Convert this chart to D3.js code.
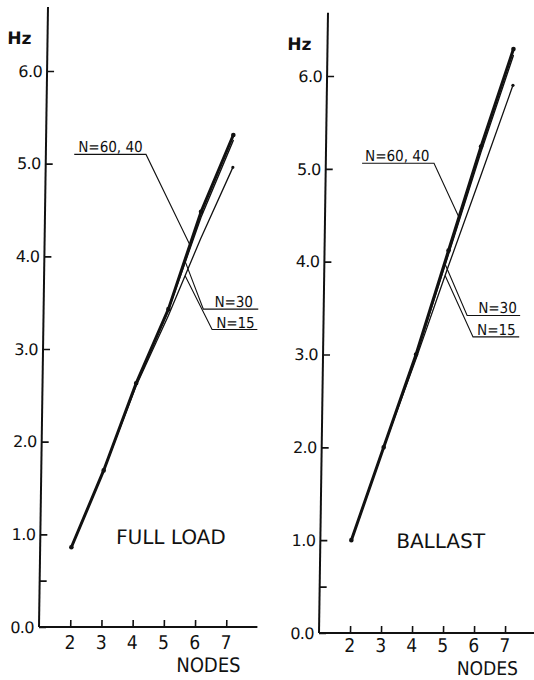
<!DOCTYPE html>
<html>
<head>
<meta charset="utf-8">
<script src="https://cdn.jsdelivr.net/npm/d3@7"></script>
<style>
  html, body { margin: 0; padding: 0; background: #fff; }
  svg { display: block; }
  .lbl { font-family: "DejaVu Sans", sans-serif; fill: #111; }
  .cond { font-family: "DejaVu Sans Condensed", "DejaVu Sans", sans-serif; font-stretch: condensed; fill: #111; }
</style>
</head>
<body>
<svg id="chart" width="534" height="680"></svg>
<script>
// Natural frequency (Hz) against number of nodes, per mesh density N
const nodes = [2, 3, 4, 5, 6, 7];
const yTicks = [0, 1, 2, 3, 4, 5, 6];
const yTickLabels = ["0.0", "1.0", "2.0", "3.0", "4.0", "5.0", "6.0"];
const xTickLabels = ["2", "3", "4", "5", "6", "7"];

const fullLoadN6040 = [0.86, 1.69, 2.63, 3.43, 4.48, 5.31];
const fullLoadN30   = [0.86, 1.69, 2.62, 3.42, 4.42, 5.25];
const fullLoadN15   = [0.86, 1.69, 2.60, 3.36, 4.19, 4.96];

const ballastN6040 = [1.00, 2.00, 3.00, 4.12, 5.24, 6.29];
const ballastN30   = [1.00, 2.00, 2.98, 4.08, 5.18, 6.22];
const ballastN15   = [1.00, 2.00, 2.95, 3.95, 4.92, 5.90];

const seriesNames = ["N=60, 40", "N=30", "N=15"];
const panelTitles = ["FULL LOAD", "BALLAST"];

const svg = d3.select("#chart");
const ink = "#111";
const shear = 0.0145; // the whole sheet leans slightly

const panels = [
  {
    title: panelTitles[0],
    x: d3.scaleLinear().domain([1, 8]).range([39, 257.4]),
    y: d3.scaleLinear().domain([0, 6]).range([627, 71]),
    yTop: 6.69,
    series: [fullLoadN15, fullLoadN30, fullLoadN6040],
    titleAt: [3.43, 0.895],
    tickDy: 22, nodesDy: 45, nodesSize: 20,
    notes: [
      { text: seriesNames[0], s: 2, at: 5.66, from: [1.91, 5.10], to: [4.21, 5.10], pad: 4 },
      { text: seriesNames[1], s: 1, at: 5.52, from: [6.12, 3.43], to: [7.88, 3.43], pad: 11 },
      { text: seriesNames[2], s: 0, at: 5.52, from: [6.41, 3.21], to: [7.86, 3.21], pad: 4 }
    ]
  },
  {
    title: panelTitles[1],
    x: d3.scaleLinear().domain([1, 8]).range([319, 536]),
    y: d3.scaleLinear().domain([0, 6]).range([633, 76]),
    yTop: 6.68,
    series: [ballastN15, ballastN30, ballastN6040],
    titleAt: [3.45, 0.92],
    tickDy: 19, nodesDy: 42, nodesSize: 19,
    notes: [
      { text: seriesNames[0], s: 2, at: 5.32, from: [2.17, 5.06], to: [4.49, 5.06], pad: 3 },
      { text: seriesNames[1], s: 1, at: 4.90, from: [5.63, 3.42], to: [7.34, 3.42], pad: 11 },
      { text: seriesNames[2], s: 0, at: 4.90, from: [5.83, 3.19], to: [7.32, 3.19], pad: 4 }
    ]
  }
];

const widths = [1.3, 1.4, 3.0];

panels.forEach(p => {
  const x = p.x, y = p.y;
  const y0 = y(0);
  const ang = Math.atan(-shear) * 180 / Math.PI;
  const g = svg.append("g")
    .attr("transform", `translate(${shear * y0},0) skewX(${ang})`);

  // y axis
  const yAxis = d3.axisRight(y)
    .tickValues(yTicks.concat([0.5]))
    .tickSize(7)
    .tickFormat("");
  const ya = g.append("g").attr("transform", `translate(${x(1)},0)`).call(yAxis);
  ya.select(".domain").remove();
  ya.selectAll(".tick line").attr("stroke", ink).attr("stroke-width", 1.6);
  g.append("line")
    .attr("x1", x(1)).attr("x2", x(1))
    .attr("y1", y(0)).attr("y2", y(p.yTop))
    .attr("stroke", ink).attr("stroke-width", 2);

  g.selectAll(".ylab").data(yTicks).enter().append("text")
    .attr("class", "lbl")
    .attr("x", x(1) - 5)
    .attr("y", d => y(d))
    .attr("dy", "0.36em")
    .attr("text-anchor", "end")
    .attr("font-size", 16)
    .attr("letter-spacing", -0.6)
    .text((d, i) => yTickLabels[i]);

  g.append("text")
    .attr("class", "lbl")
    .attr("x", x(1) - 16)
    .attr("y", y(p.yTop) + 37)
    .attr("text-anchor", "end")
    .attr("font-size", 17)
    .attr("font-weight", "bold")
    .text("Hz");

  // x axis
  const xAxis = d3.axisTop(x).tickValues(nodes).tickSize(7).tickFormat("");
  const xa = g.append("g").attr("transform", `translate(0,${y0})`).call(xAxis);
  xa.select(".domain").remove();
  xa.selectAll(".tick line").attr("stroke", ink).attr("stroke-width", 1.6);
  g.append("line")
    .attr("x1", x(1)).attr("x2", x(8))
    .attr("y1", y0).attr("y2", y0)
    .attr("stroke", ink).attr("stroke-width", 2);

  g.selectAll(".xlab").data(nodes).enter().append("text")
    .attr("class", "cond")
    .attr("x", d => x(d))
    .attr("y", y0 + p.tickDy)
    .attr("text-anchor", "middle")
    .attr("font-size", 19)
    .text((d, i) => xTickLabels[i]);

  g.append("text")
    .attr("class", "cond")
    .attr("x", x(6.45))
    .attr("y", y0 + p.nodesDy)
    .attr("text-anchor", "middle")
    .attr("font-size", p.nodesSize)
    .text("NODES");

  // curves
  const line = d3.line().x((d, i) => x(nodes[i])).y(d => y(d));
  p.series.forEach((vals, k) => {
    g.append("path")
      .attr("d", line(vals))
      .attr("fill", "none")
      .attr("stroke", ink)
      .attr("stroke-width", widths[k])
      .attr("stroke-linejoin", "round")
      .attr("stroke-linecap", "round");
  });
  const main = p.series[2];
  g.selectAll(".dot").data(main).enter().append("circle")
    .attr("cx", (d, i) => x(nodes[i]))
    .attr("cy", d => y(d))
    .attr("r", 2.3)
    .attr("fill", ink);
  const low = p.series[0];
  g.append("circle")
    .attr("cx", x(nodes[nodes.length - 1]))
    .attr("cy", y(low[low.length - 1]))
    .attr("r", 1.6)
    .attr("fill", ink);

  // leader labels: the leader meets the underline at its end nearer the curve
  p.notes.forEach(n => {
    const interp = d3.scaleLinear().domain(nodes).range(p.series[n.s]);
    const px = x(n.at), py = y(interp(n.at));
    const sx = x(n.from[0]), ex = x(n.to[0]), uy = y(n.from[1]);
    const joinX = Math.abs(px - sx) < Math.abs(px - ex) ? sx : ex;
    const farX = joinX === sx ? ex : sx;
    g.append("path")
      .attr("d", `M${px},${py}L${joinX},${uy}L${farX},${uy}`)
      .attr("fill", "none")
      .attr("stroke", ink)
      .attr("stroke-width", 1.1);
    g.append("text")
      .attr("class", "cond")
      .attr("x", sx + n.pad)
      .attr("y", uy - 2)
      .attr("font-size", 15)
      .text(n.text);
  });

  g.append("text")
    .attr("class", "lbl")
    .attr("x", x(p.titleAt[0]))
    .attr("y", y(p.titleAt[1]))
    .attr("font-size", 20)
    .text(p.title);
});
</script>
</body>
</html>
